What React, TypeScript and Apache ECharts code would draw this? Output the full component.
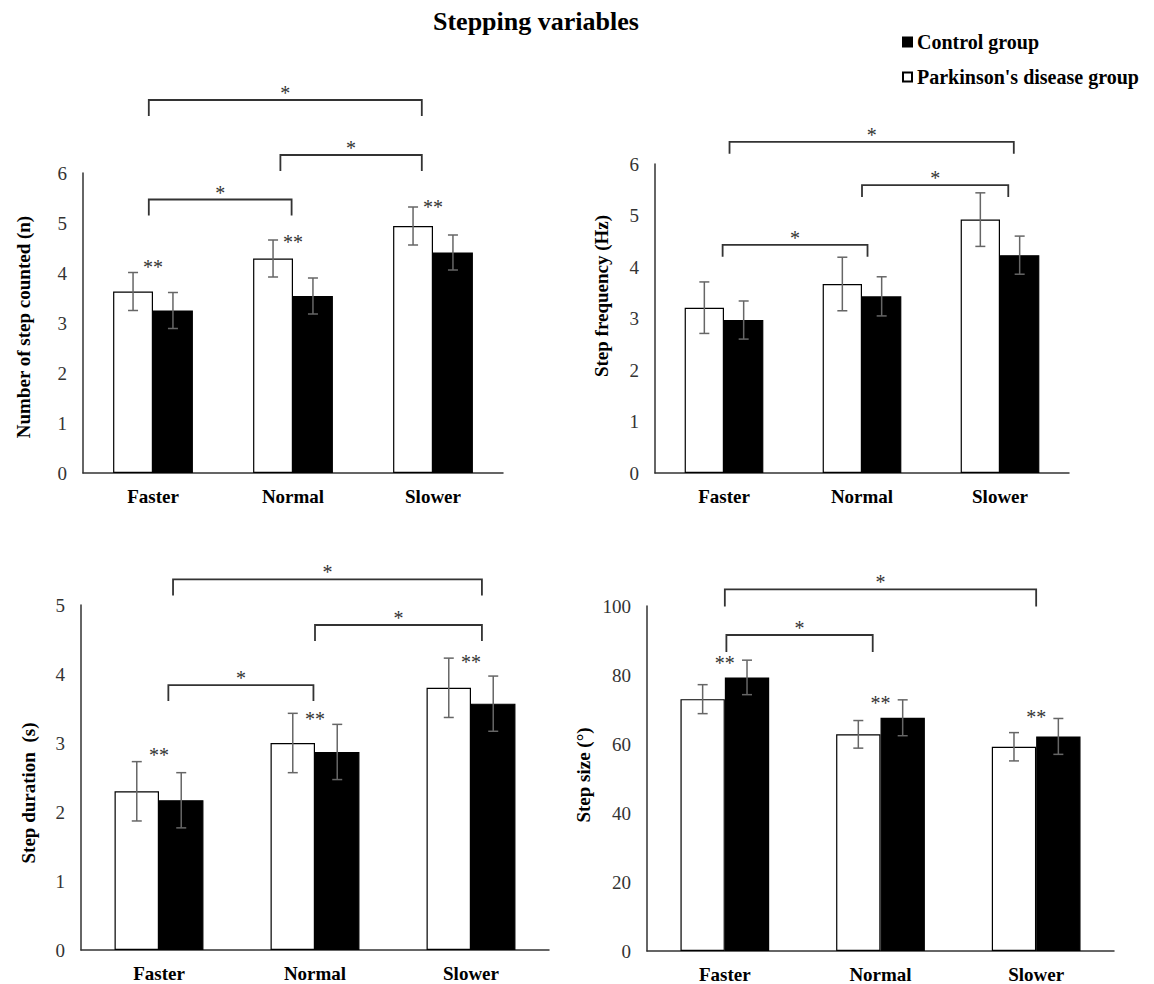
import React, { useEffect, useRef } from 'react';
import * as echarts from 'echarts';

// ---------- data ----------
const categories = ['Faster', 'Normal', 'Slower'];

// Number of step counted (n)
const countPD = [3.63, 4.29, 4.94];
const countPDsd = [0.38, 0.37, 0.38];
const countCtrl = [3.25, 3.54, 4.41];
const countCtrlSd = [0.36, 0.36, 0.35];
const countSig = [4.18, 4.68, 5.38];
const countBrackets = [
  [-0.03, 0.99, 5.47],
  [0.91, 1.92, 6.36],
  [-0.03, 1.92, 7.46],
];

// Step frequency (Hz)
const freqPD = [3.21, 3.67, 4.92];
const freqPDsd = [0.5, 0.52, 0.52];
const freqCtrl = [2.97, 3.43, 4.23];
const freqCtrlSd = [0.37, 0.38, 0.37];
const freqSig: number[] = [];
const freqBrackets = [
  [-0.01, 1.04, 4.43],
  [1.0, 2.06, 5.59],
  [0.04, 2.1, 6.43],
];

// Step duration (s)
const durPD = [2.3, 3.0, 3.8];
const durPDsd = [0.43, 0.43, 0.43];
const durCtrl = [2.17, 2.87, 3.57];
const durCtrlSd = [0.4, 0.4, 0.4];
const durSig = [2.87, 3.39, 4.22];
const durBrackets = [
  [0.06, 0.99, 3.84],
  [1.0, 2.07, 4.71],
  [0.09, 2.07, 5.37],
];

// Step size (°)
const sizePD = [73.0, 62.8, 59.2];
const sizePDsd = [4.2, 4.0, 4.1];
const sizeCtrl = [79.3, 67.6, 62.2];
const sizeCtrlSd = [5.0, 5.2, 5.2];
const sizeSig = [84.3, 72.7, 68.7];
const sizeBrackets = [
  [0.01, 0.95, 91.6],
  [0.0, 2.0, 104.8],
];

const PD_NAME = "Parkinson's disease group";
const CTRL_NAME = 'Control group';

// ---------- styling / layout ----------
const FONT = '"Liberation Serif", "Times New Roman", serif';
const GAP = 0.43;

const panels = [
  {
    grid: { left: 83, top: 173, width: 420, height: 300 },
    yName: 'Number of step counted (n)', namePos: [23, 327], max: 6, interval: 1,
    pd: countPD, pdSd: countPDsd, ctrl: countCtrl, ctrlSd: countCtrlSd,
    sig: countSig, brackets: countBrackets, leg: 16,
  },
  {
    grid: { left: 655, top: 164, width: 414, height: 309 },
    yName: 'Step frequency (Hz)', namePos: [601, 296], max: 6, interval: 1,
    pd: freqPD, pdSd: freqPDsd, ctrl: freqCtrl, ctrlSd: freqCtrlSd,
    sig: freqSig, brackets: freqBrackets, leg: 12,
  },
  {
    grid: { left: 81, top: 605, width: 468, height: 345 },
    yName: 'Step duration  (s)', namePos: [28, 793], max: 5, interval: 1,
    pd: durPD, pdSd: durPDsd, ctrl: durCtrl, ctrlSd: durCtrlSd,
    sig: durSig, brackets: durBrackets, leg: 16,
  },
  {
    grid: { left: 647, top: 606, width: 467, height: 345 },
    yName: 'Step size (°)', namePos: [583, 775], max: 100, interval: 20,
    pd: sizePD, pdSd: sizePDsd, ctrl: sizeCtrl, ctrlSd: sizeCtrlSd,
    sig: sizeSig, brackets: sizeBrackets, leg: 17,
  },
];

function errRender(side: number) {
  return (params: any, api: any) => {
    const i = api.value(0);
    const m = api.value(1);
    const sd = api.value(2);
    const band = api.size([1, 0])[0];
    const bw = (band * (1 - GAP)) / 2;
    const cx = api.coord([i, m])[0] + (side * bw) / 2;
    const top = api.coord([i, m + sd])[1];
    const bot = api.coord([i, m - sd])[1];
    const cap = 5;
    const st = { stroke: '#666', lineWidth: 1.5 };
    return {
      type: 'group',
      children: [
        { type: 'line', shape: { x1: cx, y1: top, x2: cx, y2: bot }, style: st },
        { type: 'line', shape: { x1: cx - cap, y1: top, x2: cx + cap, y2: top }, style: st },
        { type: 'line', shape: { x1: cx - cap, y1: bot, x2: cx + cap, y2: bot }, style: st },
      ],
    };
  };
}

function bracketRender(leg: number) {
  return (params: any, api: any) => {
    const lv = api.value(1);
    const x1 = api.value(2);
    const x2 = api.value(3);
    const band = api.size([1, 0])[0];
    const px = (x: number) => {
      const b = Math.round(x);
      return api.coord([b, lv])[0] + (x - b) * band;
    };
    const y = api.coord([0, lv])[1];
    const a = px(x1);
    const b = px(x2);
    return {
      type: 'group',
      children: [
        {
          type: 'polyline',
          shape: { points: [[a, y + leg], [a, y], [b, y], [b, y + leg]] },
          style: { stroke: '#333', lineWidth: 1.8, fill: 'none' },
        },
        {
          type: 'text',
          x: (a + b) / 2,
          y: y - 7,
          style: {
            text: '*', fill: '#333', fontSize: 20, fontFamily: FONT,
            align: 'center', verticalAlign: 'middle',
          },
        },
      ],
    };
  };
}

function sigRender(params: any, api: any) {
  const i = api.value(0);
  const v = api.value(1);
  const p = api.coord([i, v]);
  return {
    type: 'text',
    x: p[0],
    y: p[1] + 3,
    style: {
      text: '**', fill: '#333', fontSize: 20, fontFamily: FONT,
      align: 'center', verticalAlign: 'middle',
    },
  };
}

function buildOption() {
  const grid: any[] = [];
  const xAxis: any[] = [];
  const yAxis: any[] = [];
  const series: any[] = [];
  const graphic: any[] = [];

  panels.forEach((p, k) => {
    grid.push({ ...p.grid, containLabel: false });
    xAxis.push({
      type: 'category', gridIndex: k, data: categories,
      axisLine: { lineStyle: { color: '#333', width: 1.5 } },
      axisTick: { show: false },
      axisLabel: { color: '#000', fontFamily: FONT, fontSize: 19, fontWeight: 'bold', margin: 14 },
    });
    yAxis.push({
      type: 'value', gridIndex: k, min: 0, max: p.max, interval: p.interval,
      axisLine: { show: true, lineStyle: { color: '#333', width: 1.5 } },
      axisTick: { show: false },
      splitLine: { show: false },
      axisLabel: { color: '#333', fontFamily: FONT, fontSize: 19, margin: 16 },
    });
    graphic.push({
      type: 'text', x: p.namePos[0], y: p.namePos[1], rotation: Math.PI / 2,
      style: {
        text: p.yName, fill: '#000', fontFamily: FONT, fontSize: 19, fontWeight: 'bold',
        align: 'center', verticalAlign: 'middle',
      },
    });
    series.push({
      type: 'bar', name: PD_NAME, xAxisIndex: k, yAxisIndex: k, data: p.pd,
      barGap: '0%', barCategoryGap: GAP * 100 + '%',
      itemStyle: { color: '#fff', borderColor: '#000', borderWidth: 1.2 },
    });
    series.push({
      type: 'bar', name: CTRL_NAME, xAxisIndex: k, yAxisIndex: k, data: p.ctrl,
      barGap: '0%', barCategoryGap: GAP * 100 + '%',
      itemStyle: { color: '#000', borderColor: '#000', borderWidth: 1.2 },
    });
    series.push({
      type: 'custom', name: 'errPD' + k, xAxisIndex: k, yAxisIndex: k,
      renderItem: errRender(-1), encode: { x: 0, y: 1 }, z: 5,
      data: p.pd.map((v, i) => [i, v, p.pdSd[i]]),
    });
    series.push({
      type: 'custom', name: 'errCtrl' + k, xAxisIndex: k, yAxisIndex: k,
      renderItem: errRender(1), encode: { x: 0, y: 1 }, z: 5,
      data: p.ctrl.map((v, i) => [i, v, p.ctrlSd[i]]),
    });
    series.push({
      type: 'custom', name: 'brackets' + k, xAxisIndex: k, yAxisIndex: k,
      renderItem: bracketRender(p.leg), encode: { x: 0, y: 1 }, clip: false, z: 6,
      data: p.brackets.map((b) => [0, b[2], b[0], b[1]]),
    });
    if (p.sig.length) {
      series.push({
        type: 'custom', name: 'sig' + k, xAxisIndex: k, yAxisIndex: k,
        renderItem: sigRender, encode: { x: 0, y: 1 }, clip: false, z: 6,
        data: p.sig.map((v, i) => [i, v]),
      });
    }
  });

  return {
    animation: false,
    backgroundColor: '#fff',
    title: {
      text: 'Stepping variables', left: 433, top: 8, padding: 0,
      textStyle: { color: '#000', fontFamily: FONT, fontSize: 26, fontWeight: 'bold' },
    },
    legend: {
      data: [CTRL_NAME, PD_NAME],
      orient: 'vertical', left: 902, top: 32, padding: 0,
      itemWidth: 9, itemHeight: 9, itemGap: 15, icon: 'rect',
      textStyle: { color: '#000', fontFamily: FONT, fontSize: 20, fontWeight: 'bold' },
      selectedMode: false,
    },
    graphic,
    grid, xAxis, yAxis, series,
  };
}

export default function App() {
  const ref = useRef<HTMLDivElement>(null);
  useEffect(() => {
    document.body.style.margin = '0';
    if (!ref.current) return;
    const chart = echarts.init(ref.current, undefined, { renderer: 'svg' });
    chart.setOption(buildOption() as any);
    return () => chart.dispose();
  }, []);
  return <div ref={ref} style={{ width: 1154, height: 984 }} />;
}
